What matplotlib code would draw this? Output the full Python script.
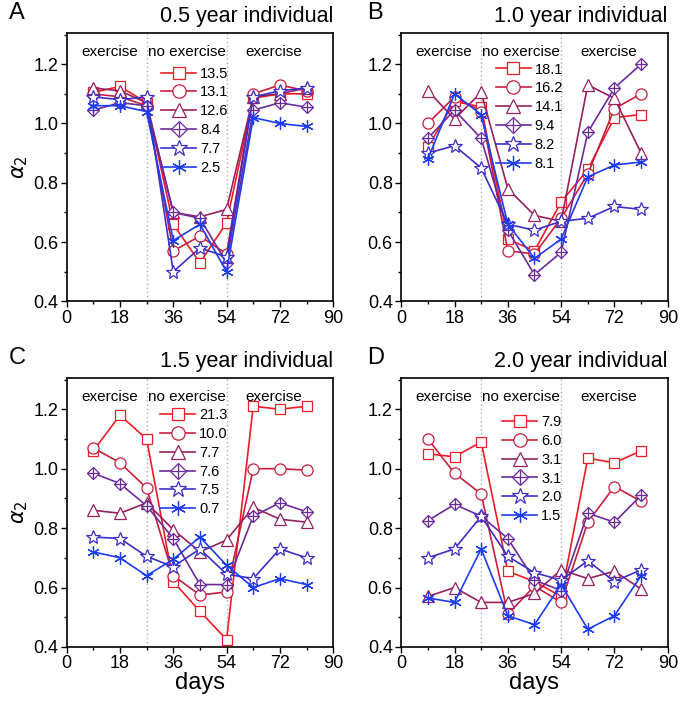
import matplotlib
matplotlib.use("Agg")
import matplotlib.pyplot as plt
from matplotlib.ticker import MultipleLocator
from matplotlib.legend_handler import HandlerTuple

plt.rcParams["font.family"] = ["Liberation Sans", "DejaVu Sans"]

# ── DATA ──────────────────────────────────────────────────────────────────────
days = [9, 18, 27, 36, 45, 54, 63, 72, 81]

titles = ["0.5 year individual", "1.0 year individual",
          "1.5 year individual", "2.0 year individual"]
letters = ["A", "B", "C", "D"]

labels_a = ["13.5", "13.1", "12.6", "8.4", "7.7", "2.5"]
vals_a = [
    [1.105, 1.125, 1.07, 0.66, 0.53, 0.665, 1.085, 1.10, 1.10],
    [1.10, 1.09, 1.06, 0.57, 0.62, 0.56, 1.10, 1.13, 1.11],
    [1.12, 1.11, 1.07, 0.70, 0.685, 0.71, 1.09, 1.10, 1.12],
    [1.045, 1.07, 1.06, 0.70, 0.68, 0.53, 1.045, 1.07, 1.055],
    [1.09, 1.08, 1.09, 0.50, 0.58, 0.55, 1.09, 1.11, 1.12],
    [1.06, 1.06, 1.04, 0.605, 0.66, 0.50, 1.02, 1.00, 0.99],
]

labels_b = ["18.1", "16.2", "14.1", "9.4", "8.2", "8.1"]
vals_b = [
    [0.92, 1.075, 1.055, 0.61, 0.57, 0.735, 0.845, 1.02, 1.03],
    [1.00, 1.09, 1.04, 0.57, 0.56, 0.68, 0.83, 1.05, 1.10],
    [1.11, 1.015, 1.105, 0.78, 0.69, 0.67, 1.13, 1.085, 0.90],
    [0.95, 1.045, 0.95, 0.64, 0.49, 0.565, 0.97, 1.12, 1.20],
    [0.90, 0.925, 0.85, 0.66, 0.64, 0.67, 0.68, 0.72, 0.71],
    [0.88, 1.10, 1.03, 0.66, 0.545, 0.61, 0.82, 0.86, 0.87],
]

labels_c = ["21.3", "10.0", "7.7", "7.6", "7.5", "0.7"]
vals_c = [
    [1.06, 1.18, 1.10, 0.62, 0.52, 0.425, 1.21, 1.20, 1.21],
    [1.07, 1.02, 0.935, 0.64, 0.575, 0.585, 1.00, 1.00, 0.995],
    [0.86, 0.85, 0.885, 0.795, 0.72, 0.76, 0.87, 0.83, 0.82],
    [0.985, 0.95, 0.875, 0.765, 0.61, 0.61, 0.84, 0.885, 0.855],
    [0.77, 0.765, 0.705, 0.67, 0.73, 0.645, 0.63, 0.73, 0.70],
    [0.72, 0.70, 0.64, 0.695, 0.77, 0.675, 0.60, 0.63, 0.61],
]

labels_d = ["7.9", "6.0", "3.1", "3.1", "2.0", "1.5"]
vals_d = [
    [1.05, 1.04, 1.09, 0.655, 0.62, 0.57, 1.035, 1.02, 1.06],
    [1.10, 0.985, 0.915, 0.51, 0.605, 0.55, 0.82, 0.94, 0.89],
    [0.57, 0.60, 0.55, 0.55, 0.58, 0.66, 0.63, 0.655, 0.595],
    [0.825, 0.88, 0.84, 0.765, 0.625, 0.59, 0.85, 0.82, 0.91],
    [0.70, 0.73, 0.84, 0.705, 0.65, 0.625, 0.69, 0.62, 0.66],
    [0.565, 0.55, 0.73, 0.505, 0.475, 0.61, 0.46, 0.505, 0.64],
]

# ── STYLE ─────────────────────────────────────────────────────────────────────
colors = ["#ee1c25", "#c81e3e", "#97205e", "#6c2a9c", "#3b2fc8", "#1d3cf2"]
markers = ["s", "o", "^", "D", "*", (6, 2, 0)]
msizes = [7.5, 8, 8.5, 6.5, 10, 9]

# axes rectangles in figure fractions (left, bottom, width, height)
rects = [
    (0.098, 0.572, 0.392, 0.381),
    (0.590, 0.572, 0.392, 0.381),
    (0.098, 0.081, 0.392, 0.382),
    (0.590, 0.081, 0.392, 0.382),
]
legend_anchor = [(0.355, 0.875), (0.355, 0.89), (0.352, 0.888), (0.38, 0.862)]

fig = plt.figure(figsize=(6.8, 7.04), dpi=100)

panels = [(labels_a, vals_a), (labels_b, vals_b), (labels_c, vals_c), (labels_d, vals_d)]

for i, (labels, vals) in enumerate(panels):
    ax = fig.add_axes(rects[i])
    handles = []
    for k, y in enumerate(vals):
        ln, = ax.plot(days, y, color=colors[k], lw=1.2, marker=markers[k],
                      ms=msizes[k], mfc="white", mec=colors[k], mew=0.9,
                      zorder=3 + k)
        if markers[k] == "D":
            pl, = ax.plot(days, y, ls="none", marker="+", ms=msizes[k] + 1.5,
                          mec=colors[k], mew=0.9, zorder=3 + k)
            handles.append((ln, pl))
        else:
            handles.append(ln)

    ax.axvline(27, color="#aaaaaa", ls=(0, (1, 2)), lw=1.0, zorder=1)
    ax.axvline(54, color="#aaaaaa", ls=(0, (1, 2)), lw=1.0, zorder=1)

    for xc, txt in [(14.5, "exercise"), (40.5, "no exercise"), (70, "exercise")]:
        ax.text(xc, 0.93, txt, transform=ax.get_xaxis_transform(),
                ha="center", va="center", fontsize=11)

    ax.legend(handles, labels, loc="upper left", bbox_to_anchor=legend_anchor[i],
              frameon=False, fontsize=10.5, handlelength=2.4, handletextpad=0.25,
              labelspacing=0.33, borderpad=0, borderaxespad=0, markerscale=1.2,
              handler_map={tuple: HandlerTuple(ndivide=1, pad=0)})

    ax.set_xlim(0, 90)
    ax.set_ylim(0.4, 1.305)
    ax.xaxis.set_major_locator(MultipleLocator(18))
    ax.xaxis.set_minor_locator(MultipleLocator(9))
    ax.yaxis.set_major_locator(MultipleLocator(0.2))
    ax.yaxis.set_minor_locator(MultipleLocator(0.1))
    ax.yaxis.set_major_formatter(matplotlib.ticker.FormatStrFormatter("%.1f"))
    ax.tick_params(which="major", direction="out", length=4, width=1.0,
                   labelsize=13, pad=2)
    ax.tick_params(which="minor", direction="out", length=2.5, width=1.0)
    for sp in ax.spines.values():
        sp.set_linewidth(1.2)

    ax.set_title(titles[i], fontsize=15.5, loc="right", pad=8)
    fig.text(rects[i][0] - 0.085 if i % 2 == 0 else rects[i][0] - 0.05,
             rects[i][1] + rects[i][3] + 0.028, letters[i],
             fontsize=17, va="center", ha="left")

    if i % 2 == 0:
        ax.set_ylabel(r"$\alpha_2$", fontsize=15, labelpad=2)
    if i >= 2:
        ax.set_xlabel("days", fontsize=17, labelpad=0)

fig.savefig("out.png", dpi=100)
